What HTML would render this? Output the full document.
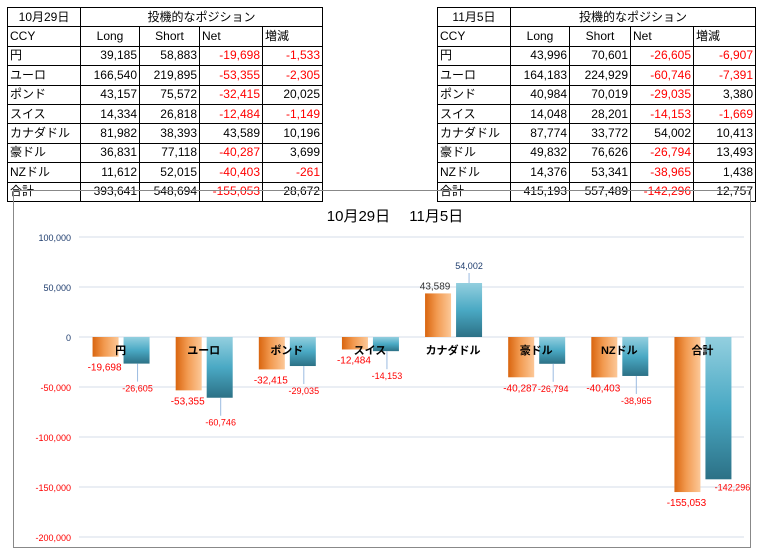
<!DOCTYPE html>
<html><head><meta charset="utf-8">
<style>
body{margin:0;width:775px;height:555px;background:#fff;font-family:"Liberation Sans","Noto Sans CJK JP",sans-serif;position:relative;overflow:hidden}
table{position:absolute;border-collapse:collapse;font-size:12px;font-family:"Liberation Sans","Noto Sans CJK JP",sans-serif;table-layout:fixed}
tr{height:19.4px}
td{border:1px solid #000;height:17px;padding:0 2px;text-align:right;white-space:nowrap;line-height:17px;overflow:hidden;box-sizing:border-box}
td.l{text-align:left}td.c{text-align:center}
.r{color:#f00}
</style></head><body>
<table style="left:7px;top:7px;width:315px">
<colgroup><col style="width:73px"><col style="width:59px"><col style="width:60px"><col style="width:63px"><col style="width:60px"></colgroup>
<tr><td class="c">10月29日</td><td class="c" colspan="4">投機的なポジション</td></tr>
<tr><td class="l">CCY</td><td class="c">Long</td><td class="c">Short</td><td class="l">Net</td><td class="l">増減</td></tr>
<tr><td class="l">円</td><td>39,185</td><td>58,883</td><td class="r">-19,698</td><td class="r">-1,533</td></tr>
<tr><td class="l">ユーロ</td><td>166,540</td><td>219,895</td><td class="r">-53,355</td><td class="r">-2,305</td></tr>
<tr><td class="l">ポンド</td><td>43,157</td><td>75,572</td><td class="r">-32,415</td><td>20,025</td></tr>
<tr><td class="l">スイス</td><td>14,334</td><td>26,818</td><td class="r">-12,484</td><td class="r">-1,149</td></tr>
<tr><td class="l">カナダドル</td><td>81,982</td><td>38,393</td><td>43,589</td><td>10,196</td></tr>
<tr><td class="l">豪ドル</td><td>36,831</td><td>77,118</td><td class="r">-40,287</td><td>3,699</td></tr>
<tr><td class="l">NZドル</td><td>11,612</td><td>52,015</td><td class="r">-40,403</td><td class="r">-261</td></tr>
<tr><td class="l">合計</td><td>393,641</td><td>548,694</td><td class="r">-155,053</td><td>28,672</td></tr>
</table>
<table style="left:437px;top:7px;width:318px">
<colgroup><col style="width:73px"><col style="width:59px"><col style="width:61px"><col style="width:63px"><col style="width:62px"></colgroup>
<tr><td class="c">11月5日</td><td class="c" colspan="4">投機的なポジション</td></tr>
<tr><td class="l">CCY</td><td class="c">Long</td><td class="c">Short</td><td class="l">Net</td><td class="l">増減</td></tr>
<tr><td class="l">円</td><td>43,996</td><td>70,601</td><td class="r">-26,605</td><td class="r">-6,907</td></tr>
<tr><td class="l">ユーロ</td><td>164,183</td><td>224,929</td><td class="r">-60,746</td><td class="r">-7,391</td></tr>
<tr><td class="l">ポンド</td><td>40,984</td><td>70,019</td><td class="r">-29,035</td><td>3,380</td></tr>
<tr><td class="l">スイス</td><td>14,048</td><td>28,201</td><td class="r">-14,153</td><td class="r">-1,669</td></tr>
<tr><td class="l">カナダドル</td><td>87,774</td><td>33,772</td><td>54,002</td><td>10,413</td></tr>
<tr><td class="l">豪ドル</td><td>49,832</td><td>76,626</td><td class="r">-26,794</td><td>13,493</td></tr>
<tr><td class="l">NZドル</td><td>14,376</td><td>53,341</td><td class="r">-38,965</td><td>1,438</td></tr>
<tr><td class="l">合計</td><td>415,193</td><td>557,489</td><td class="r">-142,296</td><td>12,757</td></tr>
</table>
<svg id="chart" width="775" height="555" style="position:absolute;left:0;top:0">
<defs>
<linearGradient id="go" x1="0" x2="1" y1="0" y2="0"><stop offset="0" stop-color="#d9650f"/><stop offset="0.45" stop-color="#f29a50"/><stop offset="1" stop-color="#fcc898"/></linearGradient>
<linearGradient id="gb" x1="0" x2="0" y1="0" y2="1"><stop offset="0" stop-color="#93cfdf"/><stop offset="0.5" stop-color="#4aa9c4"/><stop offset="1" stop-color="#2c7186"/></linearGradient>
</defs>
<rect x="13.5" y="190.5" width="737" height="357" fill="none" stroke="#888"/>
<text x="395" y="221" text-anchor="middle" font-size="15" font-family="Liberation Sans,Noto Sans CJK JP,sans-serif">10月29日　 11月5日</text>
<g id="grid"></g><g id="bars"></g><g id="labels"></g>
</svg>
<script>
const categories=["円","ユーロ","ポンド","スイス","カナダドル","豪ドル","NZドル","合計"];
const netOct29=[-19698,-53355,-32415,-12484,43589,-40287,-40403,-155053];
const netNov5=[-26605,-60746,-29035,-14153,54002,-26794,-38965,-142296];
const yTicks=[100000,50000,0,-50000,-100000,-150000,-200000];
const NS="http://www.w3.org/2000/svg";
const x0=79,x1=744,yZero=337,k=0.001;
const cw=(x1-x0)/categories.length;
const Y=v=>yZero-v*k;
const X=i=>x0+cw*(i+0.5);
const fmt=v=>v.toLocaleString("en-US");
function mk(tag,attrs,parent,txt){const e=document.createElementNS(NS,tag);for(const a in attrs)e.setAttribute(a,attrs[a]);if(txt!==undefined)e.textContent=txt;parent.appendChild(e);return e;}
const grid=document.getElementById("grid"),bars=document.getElementById("bars"),labels=document.getElementById("labels");
yTicks.forEach(t=>{
  const l=mk("line",{x1:x0,x2:x1,y1:Y(t),y2:Y(t),stroke:"#d6dee9","stroke-width":1},grid);
  
  
  const tx=mk("text",{x:71,y:Y(t)+4,"text-anchor":"end","font-size":9,fill:t<0?"#f00":"#1f3d6e"},grid,fmt(t));
  
  
});
categories.forEach((c,i)=>{
  const cx=X(i);
  const a=netOct29[i],b=netNov5[i];
  const ra=mk("rect",{x:cx-28,y:Math.min(Y(a),yZero),width:26,height:Math.abs(Y(a)-yZero),fill:"url(#go)"},bars);
  
  
  const rb=mk("rect",{x:cx+3,y:Math.min(Y(b),yZero),width:26,height:Math.abs(Y(b)-yZero),fill:"url(#gb)"},bars);
  
  
  const cl=mk("text",{x:cx,y:yZero+17,"text-anchor":"middle","font-size":11,"font-weight":"bold",fill:"#000"},labels,c);
  
  
  let la;
  if(a<0) la=mk("text",{x:cx-16,y:Y(a)+14,"text-anchor":"middle","font-size":10,fill:"#f00"},labels,fmt(a));
  else la=mk("text",{x:cx-18,y:Y(a)-4,"text-anchor":"middle","font-size":10,fill:"#333"},labels,fmt(a));
  
  
  let lb;
  if(i===categories.length-1){
    lb=mk("text",{x:cx+30,y:Y(b)+11,"text-anchor":"middle","font-size":9,fill:"#f00"},labels,fmt(b));
  } else if(b<0){
    const ln=mk("line",{x1:cx+17,x2:cx+17,y1:Y(b),y2:Y(b)+18,stroke:"#9bbbe0"},labels);
    
    
    lb=mk("text",{x:cx+17,y:Y(b)+28,"text-anchor":"middle","font-size":9,fill:"#f00"},labels,fmt(b));
  } else {
    const ln=mk("line",{x1:cx+16,x2:cx+16,y1:Y(b),y2:Y(b)-10,stroke:"#9bbbe0"},labels);
    
    
    lb=mk("text",{x:cx+16,y:Y(b)-14,"text-anchor":"middle","font-size":9,fill:"#1f3d6e"},labels,fmt(b));
  }
  
  
});
</script>
</body></html>
